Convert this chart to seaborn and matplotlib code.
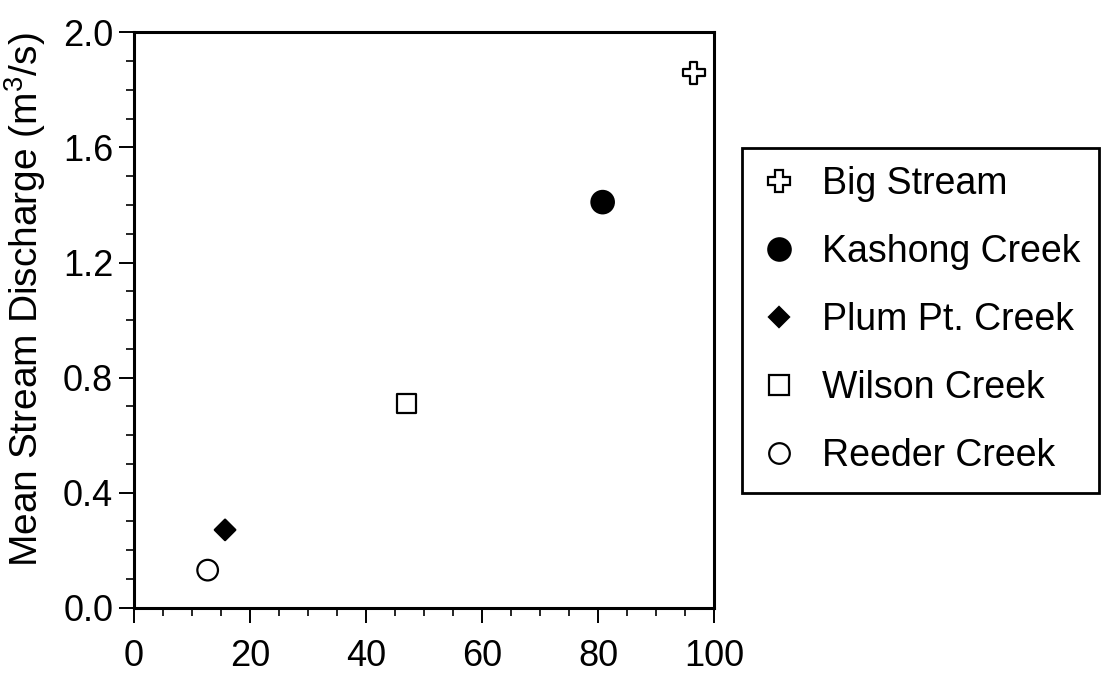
import matplotlib
matplotlib.use("Agg")
import matplotlib.pyplot as plt
import pandas as pd
import seaborn as sns
from matplotlib.ticker import MultipleLocator

# values
sites = ["Big Stream", "Kashong Creek", "Plum Pt. Creek", "Wilson Creek", "Reeder Creek"]
pct_x = [96.5, 80.8, 15.7, 47.0, 12.7]
discharge = [1.86, 1.41, 0.27, 0.71, 0.13]

shapes = ["P", "o", "D", "s", "o"]
faces = ["white", "black", "black", "white", "white"]
marker_area = [250, 260, 110, 190, 220]

df = pd.DataFrame({"site": sites, "x": pct_x, "q": discharge})

sns.set_theme(style="ticks")
plt.rcParams["font.family"] = ["Liberation Sans", "DejaVu Sans"]
plt.rcParams["mathtext.fontset"] = "custom"
plt.rcParams["mathtext.rm"] = "Liberation Sans"
plt.rcParams["text.color"] = "black"

fig = plt.figure(figsize=(11.12, 6.87), dpi=100)
ax = fig.add_axes([0.1205, 0.1157, 0.5216, 0.837])

sns.scatterplot(data=df, x="x", y="q", hue="site", style="site", size="site",
                palette=dict(zip(sites, faces)), markers=dict(zip(sites, shapes)),
                sizes=dict(zip(sites, marker_area)), hue_order=sites, style_order=sites,
                size_order=sites, edgecolor="black", linewidth=1.6, ax=ax, legend="full",
                zorder=3)

ax.set_xlim(0, 100)
ax.set_ylim(0, 2.0)
ax.xaxis.set_major_locator(MultipleLocator(20))
ax.xaxis.set_minor_locator(MultipleLocator(5))
ax.yaxis.set_major_locator(MultipleLocator(0.4))
ax.yaxis.set_minor_locator(MultipleLocator(0.1))
ax.yaxis.set_major_formatter(matplotlib.ticker.FormatStrFormatter("%.1f"))
ax.tick_params(which="major", length=11, width=1.4, labelsize=26, color="black", labelcolor="black")
ax.tick_params(which="minor", length=6, width=1.2, color="black")
ax.tick_params(axis="x", which="major", pad=12)
ax.tick_params(axis="y", which="major", pad=4)
for s in ax.spines.values():
    s.set_linewidth(2.2)
    s.set_color("black")

ax.set_xlabel("")
ax.set_ylabel("Mean Stream Discharge (m$^3$/s)", fontsize=28, color="black")
ax.yaxis.set_label_coords(-0.148, 0.535)

handles, labels = ax.get_legend_handles_labels()
leg = ax.legend(handles, labels, loc="upper left", bbox_to_anchor=(0.667, 0.785),
                bbox_transform=fig.transFigure, fontsize=27, frameon=True, fancybox=False,
                edgecolor="black", framealpha=1, labelspacing=0.85, borderpad=0.5,
                handlelength=1.0, handletextpad=0.65, borderaxespad=0, title=None,
                labelcolor="black")
leg.get_frame().set_linewidth(2)

fig.savefig("out.png", dpi=100, facecolor="white")
